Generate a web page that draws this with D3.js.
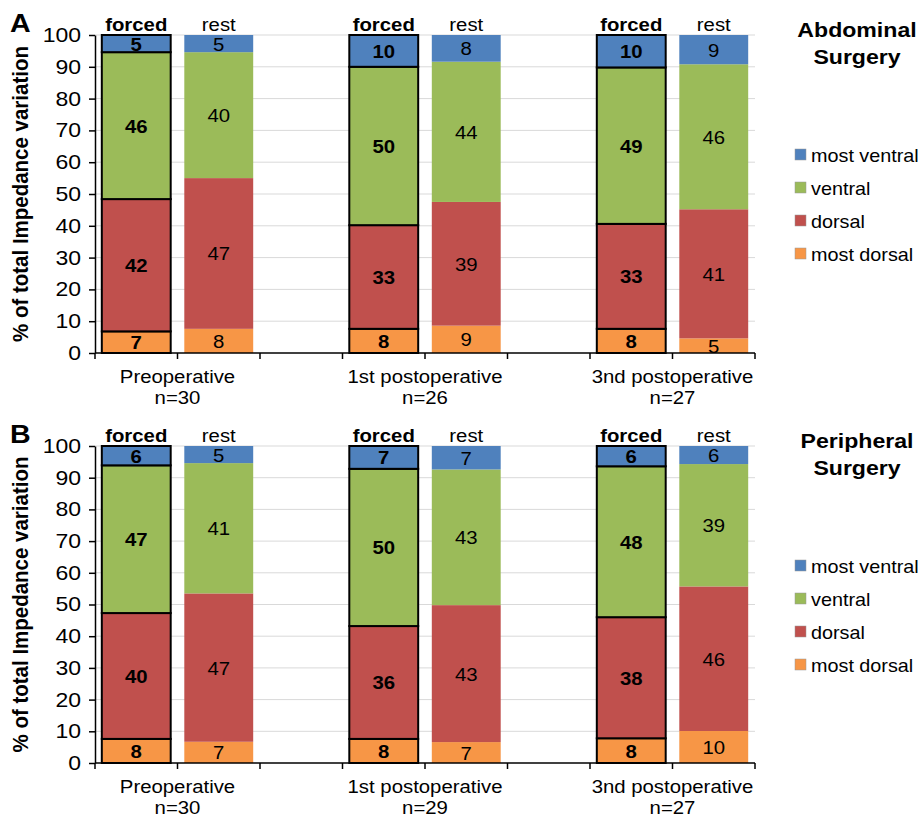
<!DOCTYPE html>
<html>
<head>
<meta charset="utf-8">
<script src="https://d3js.org/d3.v7.min.js"></script>
<style>
  body { margin: 0; background: #fff; }
  svg text { font-family: "Liberation Sans", Arial, sans-serif; fill: #000; }
</style>
</head>
<body>
<div id="chart"></div>
<script>
// categories and groups
var timepoints = ["Preoperative", "1st postoperative", "3nd postoperative"];
var nAbdominal = ["n=30", "n=26", "n=27"];
var nPeripheral = ["n=30", "n=29", "n=27"];
var modes = ["forced", "rest"];
var regions = ["most dorsal", "dorsal", "ventral", "most ventral"];
var legendOrder = ["most ventral", "ventral", "dorsal", "most dorsal"];
var yTicks = [0, 10, 20, 30, 40, 50, 60, 70, 80, 90, 100];

// values, order: pre forced, pre rest, 1st forced, 1st rest, 3rd forced, 3rd rest
var abdMostDorsal  = [6.8, 7.6, 7.6, 8.6, 7.6, 4.6];
var abdDorsal      = [41.6, 47.4, 32.6, 38.9, 33.0, 40.6];
var abdVentral     = [46.2, 39.6, 49.8, 44.1, 49.2, 45.6];
var abdMostVentral = [5.4, 5.4, 10.0, 8.4, 10.2, 9.2];

var perMostDorsal  = [7.6, 6.7, 7.6, 6.6, 7.8, 10.1];
var perDorsal      = [39.7, 46.8, 35.6, 43.2, 38.2, 45.6];
var perVentral     = [46.6, 41.1, 49.6, 42.8, 47.6, 38.6];
var perMostVentral = [6.1, 5.4, 7.2, 7.4, 6.4, 5.7];

var colors = d3.scaleOrdinal()
    .domain(regions)
    .range(["#F79646", "#C0504D", "#9BBB59", "#4F81BD"]);

var width = 921, height = 817;
var stretch = 1.1; // text in the original is a bit wider than Arial

var svg = d3.select("#chart").append("svg")
    .attr("width", width)
    .attr("height", height);

// slots: forced, rest, gap for each timepoint (no gap after the last)
var slots = [];
timepoints.forEach(function(t, i) {
  modes.forEach(function(m) { slots.push(i + "-" + m); });
  if (i < timepoints.length - 1) slots.push(i + "-gap");
});

var x = d3.scaleBand()
    .domain(slots)
    .range([95, 755])
    .paddingInner(0.165)
    .paddingOuter(0.0825);

function rows(md, d, v, mv) {
  var out = [];
  for (var i = 0; i < 6; i++) {
    out.push({
      slot: Math.floor(i / 2) + "-" + modes[i % 2],
      mode: modes[i % 2],
      "most dorsal": md[i], "dorsal": d[i], "ventral": v[i], "most ventral": mv[i]
    });
  }
  return out;
}

// text helper, stretched horizontally around its anchor
function txt(parent, tx, ty, s, size, weight, anchor) {
  return parent.append("text")
      .attr("transform", "translate(" + tx + "," + ty + ") scale(" + stretch + ",1)")
      .attr("text-anchor", anchor || "middle")
      .style("font-size", size + "px")
      .style("font-weight", weight || "normal")
      .text(s);
}

function drawPanel(cfg) {
  var g = svg.append("g");
  var y = d3.scaleLinear().domain([0, 100]).range([cfg.bottom, cfg.top]);

  // gridlines
  g.append("g").selectAll("line")
      .data(yTicks.slice(1))
    .enter().append("line")
      .attr("x1", 95).attr("x2", 755)
      .attr("y1", function(d) { return y(d); })
      .attr("y2", function(d) { return y(d); })
      .attr("stroke", "#d9d9d9")
      .attr("stroke-width", 1);

  // stacked bars
  var series = d3.stack().keys(regions)(cfg.data);
  var bw = x.bandwidth();

  var layer = g.append("g").selectAll("g")
      .data(series)
    .enter().append("g")
      .attr("fill", function(s) { return colors(s.key); });

  layer.selectAll("rect")
      .data(function(s) { return s; })
    .enter().append("rect")
      .attr("x", function(d) { return x(d.data.slot); })
      .attr("y", function(d) { return y(d[1]); })
      .attr("width", bw)
      .attr("height", function(d) { return y(d[0]) - y(d[1]); })
      .attr("stroke", function(d) { return d.data.mode === "forced" ? "#000" : "none"; })
      .attr("stroke-width", 2);

  // data labels
  series.forEach(function(s) {
    s.forEach(function(d) {
      var cx = x(d.data.slot) + bw / 2,
          cy = (y(d[0]) + y(d[1])) / 2;
      txt(g, cx, cy + 7, Math.round(d[1] - d[0]), 18.5,
          d.data.mode === "forced" ? "bold" : "normal");
    });
  });

  // y axis
  var yAxis = g.append("g")
      .attr("transform", "translate(95,0)")
      .call(d3.axisLeft(y).tickValues(yTicks).tickSize(6).tickSizeOuter(0).tickPadding(8));
  yAxis.select(".domain").attr("stroke", "#000").attr("stroke-width", 1.5);
  yAxis.selectAll(".tick line").attr("stroke", "#000").attr("stroke-width", 1.5);
  yAxis.selectAll("text")
      .style("font-size", "20px")
      .style("font-family", "'Liberation Sans', Arial, sans-serif")
      .attr("transform", function() { return "translate(" + this.getAttribute("x") + ",0) scale(1.15,1)"; })
      .attr("x", 0);

  // x axis line and ticks at every slot boundary
  var bounds = d3.range(slots.length + 1).map(function(i) { return 95 + i * x.step(); });
  g.append("line")
      .attr("x1", 95).attr("x2", 755)
      .attr("y1", cfg.bottom).attr("y2", cfg.bottom)
      .attr("stroke", "#000").attr("stroke-width", 1.5);
  g.append("g").selectAll("line")
      .data(bounds)
    .enter().append("line")
      .attr("x1", function(d) { return d; })
      .attr("x2", function(d) { return d; })
      .attr("y1", cfg.bottom).attr("y2", cfg.bottom + 6)
      .attr("stroke", "#000").attr("stroke-width", 1.5);

  // category labels
  timepoints.forEach(function(t, i) {
    var cx = (x(i + "-forced") + x(i + "-rest") + bw) / 2;
    txt(g, cx, cfg.bottom + 30, t, 18.5);
    txt(g, cx, cfg.bottom + 51, cfg.n[i], 18.5);
    // forced / rest headers
    txt(g, x(i + "-forced") + bw / 2, cfg.top - 4, "forced", 18.5, "bold");
    txt(g, x(i + "-rest") + bw / 2, cfg.top - 4, "rest", 18.5);
  });

  // y axis title
  g.append("text")
      .attr("transform", "translate(28," + (cfg.top + cfg.bottom) / 2 + ") scale(" + stretch + ",1) rotate(-90)")
      .attr("text-anchor", "middle")
      .style("font-size", "20.5px")
      .style("font-weight", "bold")
      .text("% of total Impedance variation");

  // panel letter
  txt(g, 10, cfg.top - 3, cfg.letter, 26, "bold", "start");

  // panel title
  txt(g, 857, cfg.top + 2, cfg.title[0], 21, "bold");
  txt(g, 857, cfg.top + 29, cfg.title[1], 21, "bold");

  // legend
  var leg = g.append("g").selectAll("g")
      .data(legendOrder)
    .enter().append("g")
      .attr("transform", function(d, i) { return "translate(795," + (cfg.top + 120 + i * 33) + ")"; });
  leg.append("rect")
      .attr("x", 0).attr("y", -6)
      .attr("width", 11).attr("height", 11)
      .attr("fill", function(d) { return colors(d); })
      .attr("stroke", "#999").attr("stroke-width", 0.5);
  leg.each(function(d) { txt(d3.select(this), 16, 7, d, 18, "normal", "start"); });
}

drawPanel({
  letter: "A", title: ["Abdominal", "Surgery"], n: nAbdominal,
  top: 35, bottom: 353,
  data: rows(abdMostDorsal, abdDorsal, abdVentral, abdMostVentral)
});

drawPanel({
  letter: "B", title: ["Peripheral", "Surgery"], n: nPeripheral,
  top: 446, bottom: 763,
  data: rows(perMostDorsal, perDorsal, perVentral, perMostVentral)
});
</script>
</body>
</html>
